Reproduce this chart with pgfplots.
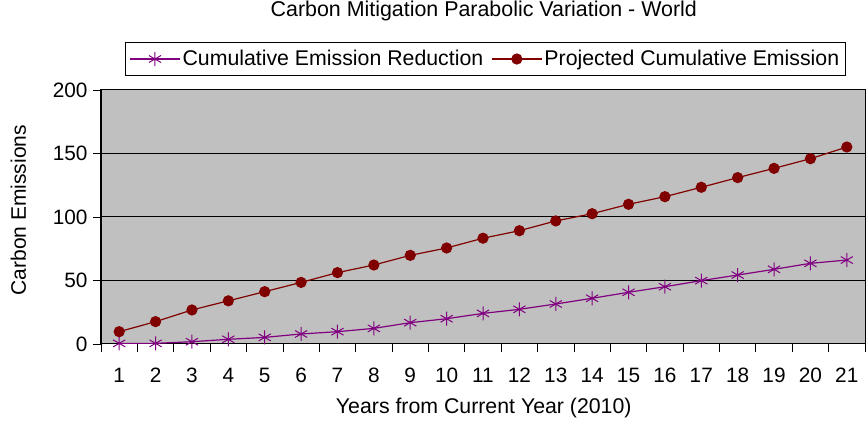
\documentclass[border=0pt]{standalone}
\usepackage{pgfplots}
\pgfplotsset{compat=1.18}
\usepackage{fontspec}
\setmainfont{Liberation Sans}
\definecolor{bggray}{RGB}{192,192,192}
\definecolor{cpurple}{RGB}{128,0,128}
\definecolor{cred}{RGB}{128,0,0}
\begin{document}
\begin{tikzpicture}
\useasboundingbox (0pt,0pt) rectangle (868pt,422pt);
\begin{axis}[
  at={(101pt,78pt)}, anchor=south west,
  scale only axis, width=764pt, height=254pt,
  xmin=0.5, xmax=21.5, ymin=0, ymax=200,
  axis background/.style={fill=bggray},
  axis line style={black, line width=1pt},
  xtick={1,...,21},
  minor xtick={0.5,1.5,...,21.5},
  ytick={0,50,100,150,200},
  minor ytick={0,50,...,200},
  tick align=outside, tick pos=left,
  major tick length=0pt, minor tick length=8pt,
  tick style={black, line width=0.8pt},
  ymajorgrids, grid style={black, line width=1pt},
  /pgf/number format/assume math mode=true,
  ticklabel style={font=\fontsize{20.8}{24}\selectfont},
  xticklabel style={anchor=center, yshift=-31pt},
  yticklabel style={anchor=east, xshift=-10pt},
  title={Carbon Mitigation Parabolic Variation - World},
  title style={font=\fontsize{21.4}{24}\selectfont, at={(axis description cs:0.501,1.287)}, anchor=center},
  xlabel={Years from Current Year (2010)},
  xlabel style={font=\fontsize{21.3}{24}\selectfont, at={(axis description cs:0.501,-0.252)}, anchor=center},
  ylabel={Carbon Emissions},
  ylabel style={font=\fontsize{21}{24}\selectfont, at={(axis description cs:-0.108,0.527)}, anchor=center},
  legend columns=2,
  legend style={at={(axis description cs:0.503,1.122)}, anchor=center, draw=black, line width=1pt, fill=white,
    font=\fontsize{21.3}{24}\selectfont, inner xsep=4pt, inner ysep=6pt,
    /tikz/every even column/.append style={column sep=6pt}},
  legend image code/.code={
    \draw[#1, mark repeat=2, mark phase=2] plot coordinates {(0pt,0pt) (25pt,0pt) (50pt,0pt)};
  },
]
\addplot[cpurple, line width=1.2pt, mark=asterisk, mark size=7pt, mark options={line width=1pt}] coordinates {
(1,0.5) (2,0.5) (3,1.8) (4,3.7) (5,5.2) (6,7.9) (7,9.7) (8,12.3) (9,16.8) (10,19.9)
(11,24.1) (12,27.3) (13,31.5) (14,36.0) (15,40.7) (16,45.1) (17,49.9) (18,54.3) (19,58.8) (20,63.5) (21,66.1)
};
\addlegendentry{Cumulative Emission Reduction}
\addplot[cred, line width=1.2pt, mark=*, mark size=5pt] coordinates {
(1,9.7) (2,17.6) (3,26.8) (4,34.0) (5,41.2) (6,48.5) (7,56.2) (8,62.2) (9,69.8) (10,75.6)
(11,83.3) (12,89.2) (13,96.9) (14,102.6) (15,110.0) (16,116.0) (17,123.4) (18,131.0) (19,138.3) (20,145.9) (21,155.1)
};
\addlegendentry{Projected Cumulative Emission}
\end{axis}
\end{tikzpicture}
\end{document}
